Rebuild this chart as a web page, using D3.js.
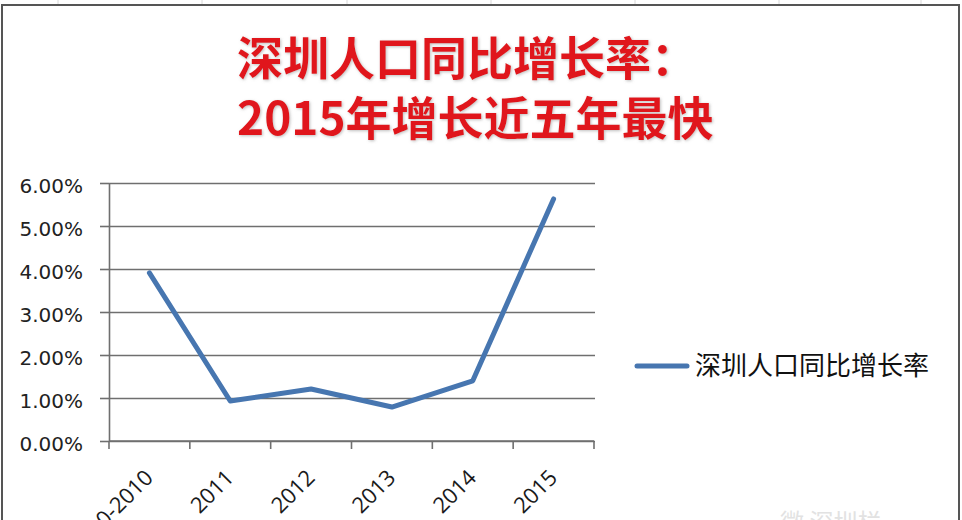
<!DOCTYPE html>
<html>
<head>
<meta charset="utf-8">
<script src="https://cdn.jsdelivr.net/npm/d3@7"></script>
<style>
  html, body { margin: 0; padding: 0; background: #fff; }
  svg { display: block; }
</style>
</head>
<body>
<svg id="chart" width="962" height="520"></svg>
<script>
// ---- data ----
const categories = ["2000-2010", "2011", "2012", "2013", "2014", "2015"];
const growthRate = [3.91, 0.93, 1.21, 0.79, 1.40, 5.63]; // percent
const yTicks = [0, 1, 2, 3, 4, 5, 6];
const seriesName = "深圳人口同比增长率";
const titleLines = ["深圳人口同比增长率：", "2015年增长近五年最快"];
const sheetColumns = [58, 202, 347, 491, 635, 779, 921];

const svg = d3.select("#chart");
const plot = { left: 109, right: 594, top: 183, bottom: 441 };

const x = d3.scaleBand().domain(categories).range([plot.left, plot.right]).padding(0);
const y = d3.scaleLinear().domain([0, 6]).range([plot.bottom, plot.top]);

// spreadsheet cell lines above chart
svg.append("g").selectAll("line").data(sheetColumns).join("line")
  .attr("x1", d => d).attr("x2", d => d).attr("y1", 0).attr("y2", 5)
  .attr("stroke", "#d8d8d8").attr("stroke-width", 1);

// chart frame
svg.append("rect")
  .attr("x", 2).attr("y", 5).attr("width", 957).attr("height", 530)
  .attr("fill", "#fff").attr("stroke", "#555").attr("stroke-width", 2);

// title
const defs = svg.append("defs");
const f = defs.append("filter").attr("id", "glow").attr("x", "-10%").attr("y", "-30%").attr("width", "120%").attr("height", "160%");
f.append("feDropShadow").attr("dx", 1).attr("dy", 1).attr("stdDeviation", 1.6)
  .attr("flood-color", "#888").attr("flood-opacity", 0.55);

svg.append("g").selectAll("text").data(titleLines).join("text")
  .attr("x", 237).attr("y", (d, i) => 75 + i * 60)
  .attr("text-anchor", "start")
  .attr("font-family", "'Noto Sans CJK SC', sans-serif")
  .attr("font-weight", "bold")
  .attr("font-size", 46)
  .attr("fill", "#e0161c")
  .attr("filter", "url(#glow)")
  .text(d => d);

// gridlines
svg.append("g")
  .attr("transform", `translate(${plot.left},0)`)
  .call(d3.axisLeft(y).tickValues(yTicks).tickSize(-(plot.right + 1 - plot.left)).tickFormat(""))
  .call(g => g.select(".domain").remove())
  .call(g => g.selectAll(".tick line").attr("stroke", "#6f6f6f").attr("stroke-width", 1.6));

// y axis with ticks & labels
svg.append("g")
  .attr("transform", `translate(${plot.left},0)`)
  .call(d3.axisLeft(y).tickValues(yTicks).tickSize(9).tickSizeOuter(0).tickPadding(17)
    .tickFormat(d => d3.format(".2f")(d) + "%"))
  .call(g => g.select(".domain").attr("stroke", "#6f6f6f").attr("stroke-width", 1.6))
  .call(g => g.selectAll(".tick line").attr("stroke", "#6f6f6f").attr("stroke-width", 1.6))
  .call(g => g.selectAll(".tick text")
    .attr("font-family", "'DejaVu Sans', sans-serif")
    .attr("font-size", 20)
    .attr("fill", "#222")
    .attr("dy", "0.45em"));

// x axis baseline & boundary ticks
const boundaries = categories.map(c => x(c)).concat([plot.right]);
svg.append("line")
  .attr("x1", plot.left).attr("x2", plot.right).attr("y1", y(0)).attr("y2", y(0))
  .attr("stroke", "#6f6f6f").attr("stroke-width", 1.6);
svg.append("g").selectAll("line").data(boundaries).join("line")
  .attr("x1", d => d).attr("x2", d => d)
  .attr("y1", y(0)).attr("y2", y(0) + 8)
  .attr("stroke", "#6f6f6f").attr("stroke-width", 1.6);

// x labels, rotated
svg.append("g").selectAll("text").data(categories).join("text")
  .attr("transform", d => `translate(${x(d) + x.bandwidth() / 2 + 5},${y(0) + 38}) rotate(-45)`)
  .attr("text-anchor", "end")
  .attr("font-family", "'Open Sans', sans-serif")
  .attr("font-size", 22)
  .attr("fill", "#1a1a1a")
  .text(d => d);

// line series
const line = d3.line()
  .x((d, i) => x(categories[i]) + x.bandwidth() / 2)
  .y(d => y(d));
svg.append("path")
  .datum(growthRate)
  .attr("fill", "none")
  .attr("stroke", "#4776b0")
  .attr("stroke-width", 5)
  .attr("stroke-linejoin", "round")
  .attr("stroke-linecap", "round")
  .attr("d", line);

// legend
const lg = svg.append("g").attr("transform", "translate(635,366)");
lg.append("line").attr("x1", 2).attr("x2", 52).attr("y1", 0).attr("y2", 0)
  .attr("stroke", "#4776b0").attr("stroke-width", 5).attr("stroke-linecap", "round");
lg.append("text").attr("x", 60).attr("y", 0).attr("dy", "0.36em")
  .attr("font-family", "'Noto Sans CJK SC', sans-serif")
  .attr("font-size", 26)
  .attr("fill", "#111")
  .text(seriesName);

// faint watermark at bottom right
svg.append("text").attr("x", 780).attr("y", 531)
  .attr("font-family", "'Noto Sans CJK SC', sans-serif")
  .attr("font-size", 24).attr("fill", "#e2e2e2")
  .text("微 深圳栏");
</script>
</body>
</html>
